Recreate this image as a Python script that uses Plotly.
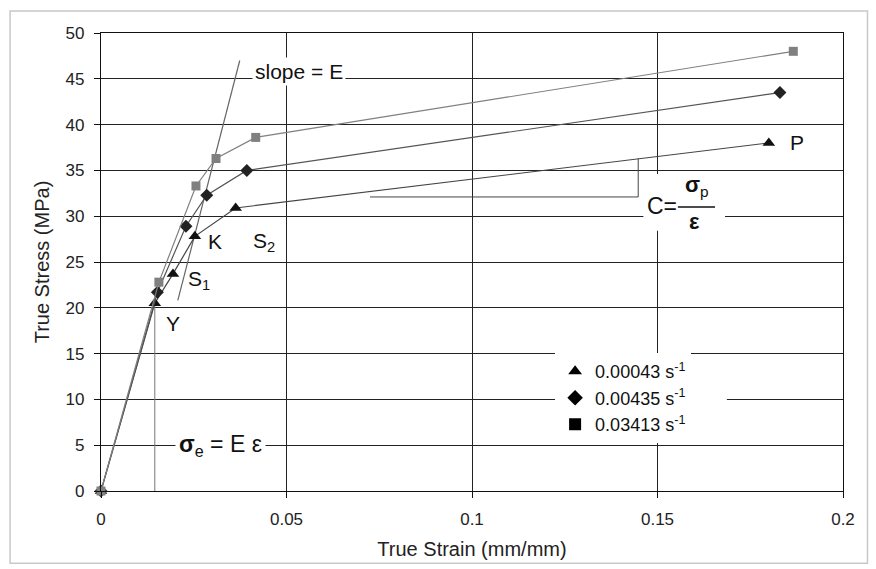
import plotly.graph_objects as go

# True stress-strain curves at three strain rates
strain_slow = [0, 0.0145, 0.0194, 0.0253, 0.0363, 0.180]
stress_slow = [0, 20.5, 23.7, 27.8, 30.9, 38.0]
strain_mid = [0, 0.0152, 0.0229, 0.0285, 0.0393, 0.183]
stress_mid = [0, 21.7, 28.9, 32.3, 35.0, 43.5]
strain_fast = [0, 0.0156, 0.0256, 0.031, 0.0417, 0.1866]
stress_fast = [0, 22.8, 33.3, 36.3, 38.6, 48.0]
rate_labels = ["0.00043 s<sup>-1</sup>", "0.00435 s<sup>-1</sup>", "0.03413 s<sup>-1</sup>"]

# construction lines
slope_strain = [0.0207, 0.0374]
slope_stress = [20.8, 47.0]
yield_strain = [0.0145, 0.0145]
yield_stress = [0, 20.5]
bracket_strain = [0.0725, 0.1448, 0.1448]
bracket_stress = [32.1, 32.1, 36.3]

x_ticks = [0, 0.05, 0.1, 0.15, 0.2]
x_ticktext = ["0", "0.05", "0.1", "0.15", "0.2"]
y_ticks = list(range(0, 55, 5))

FONT = "Liberation Sans, Arial, sans-serif"

fig = go.Figure()

series = [
    (strain_slow, stress_slow, "triangle-up", 11, "#111111", "#444444"),
    (strain_mid, stress_mid, "diamond", 10, "#222222", "#555555"),
    (strain_fast, stress_fast, "square", 9, "#808080", "#808080"),
]

# helper lines
fig.add_trace(go.Scatter(x=yield_strain, y=yield_stress, mode="lines",
                         line=dict(color="#777777", width=1), showlegend=False,
                         hoverinfo="skip"))
fig.add_trace(go.Scatter(x=slope_strain, y=slope_stress, mode="lines",
                         line=dict(color="#666666", width=1.2), showlegend=False,
                         hoverinfo="skip"))
fig.add_trace(go.Scatter(x=bracket_strain, y=bracket_stress, mode="lines",
                         line=dict(color="#444444", width=1), showlegend=False,
                         hoverinfo="skip"))

for (xs, ys, sym, size, mcol, lcol), name in zip(series, rate_labels):
    fig.add_trace(go.Scatter(x=xs, y=ys, mode="lines+markers", name=name,
                             line=dict(color=lcol, width=1.2),
                             marker=dict(symbol=sym, size=size, color=mcol),
                             cliponaxis=False, showlegend=False))

# legend entries: black symbols only
for (xs, ys, sym, size, mcol, lcol), name in zip(series, rate_labels):
    fig.add_trace(go.Scatter(x=[None], y=[None], mode="markers", name=name,
                             marker=dict(symbol=sym, size=size, color="#000000")))

# white patches behind the text blocks
fig.add_shape(type="rect", xref="x", yref="y", x0=0.1462, x1=0.1682, y0=28.4, y1=34.6,
              fillcolor="white", line=dict(width=0), layer="between")
fig.add_shape(type="rect", xref="x", yref="y", x0=0.125, x1=0.1687, y0=7.4, y1=14.6,
              fillcolor="white", line=dict(width=0), layer="between")

# outer frame
fig.add_shape(type="rect", xref="paper", yref="paper", x0=-0.1225, x1=1.033,
              y0=-0.158, y1=1.048, line=dict(color="#c8c8c8", width=1.5),
              fillcolor="rgba(0,0,0,0)", layer="below")

# fraction bar for C = sigma_p / epsilon
fig.add_shape(type="line", xref="x", yref="y", x0=0.1555, x1=0.1655, y0=31.0, y1=31.0,
              line=dict(color="#111111", width=1.5), layer="above")

txt = dict(color="#111111", family=FONT)
anns = [
    dict(x=0.0533, y=45.8, text="slope = E", font=dict(size=21, **txt), bgcolor="white", borderpad=2),
    dict(x=0.0194, y=18.3, text="Y", font=dict(size=21, **txt)),
    dict(x=0.0263, y=23.0, text="S<sub>1</sub>", font=dict(size=21, **txt)),
    dict(x=0.0306, y=27.2, text="K", font=dict(size=21, **txt)),
    dict(x=0.0438, y=27.2, text="S<sub>2</sub>", font=dict(size=21, **txt)),
    dict(x=0.1875, y=38.0, text="P", font=dict(size=21, **txt)),
    dict(x=0.0322, y=5.0, text="<b>σ</b><sub>e</sub> = E ε", font=dict(size=23, **txt),
         bgcolor="white", borderpad=3),
    dict(x=0.1512, y=31.1, text="C=", font=dict(size=23, **txt)),
    dict(x=0.1607, y=33.3, text="<b>σ</b><sub>p</sub>", font=dict(size=22, **txt)),
    dict(x=0.1600, y=29.4, text="<b>ε</b>", font=dict(size=22, **txt)),
]
for a in anns:
    a.update(xref="x", yref="y", showarrow=False)
    fig.add_annotation(**a)

axis_common = dict(showline=True, linecolor="#111111", linewidth=1.2, mirror=True,
                   showgrid=True, gridcolor="#222222", gridwidth=1,
                   ticks="outside", ticklen=6, tickcolor="#111111", tickwidth=1,
                   tickfont=dict(size=17, family=FONT, color="#222222"),
                   ticklabelstandoff=6, zeroline=False)

fig.update_layout(
    width=876, height=569,
    margin=dict(l=101, r=33, t=33, b=78),
    paper_bgcolor="white", plot_bgcolor="white",
    font=dict(family=FONT, color="#222222"),
    xaxis=dict(range=[0, 0.2], tickvals=x_ticks, ticktext=x_ticktext,
               title=dict(text="True Strain (mm/mm)", font=dict(size=20, family=FONT),
                          standoff=14),
               **axis_common),
    yaxis=dict(range=[0, 50], tickvals=y_ticks,
               title=dict(text="True Stress (MPa)", font=dict(size=20, family=FONT),
                          standoff=10),
               **axis_common),
    legend=dict(x=0.612, y=0.301, xanchor="left", yanchor="top",
                bgcolor="white", borderwidth=0,
                font=dict(size=18, family=FONT, color="#111111"),
                itemsizing="constant", tracegroupgap=0),
    showlegend=True,
)

fig.write_html("out.html")
